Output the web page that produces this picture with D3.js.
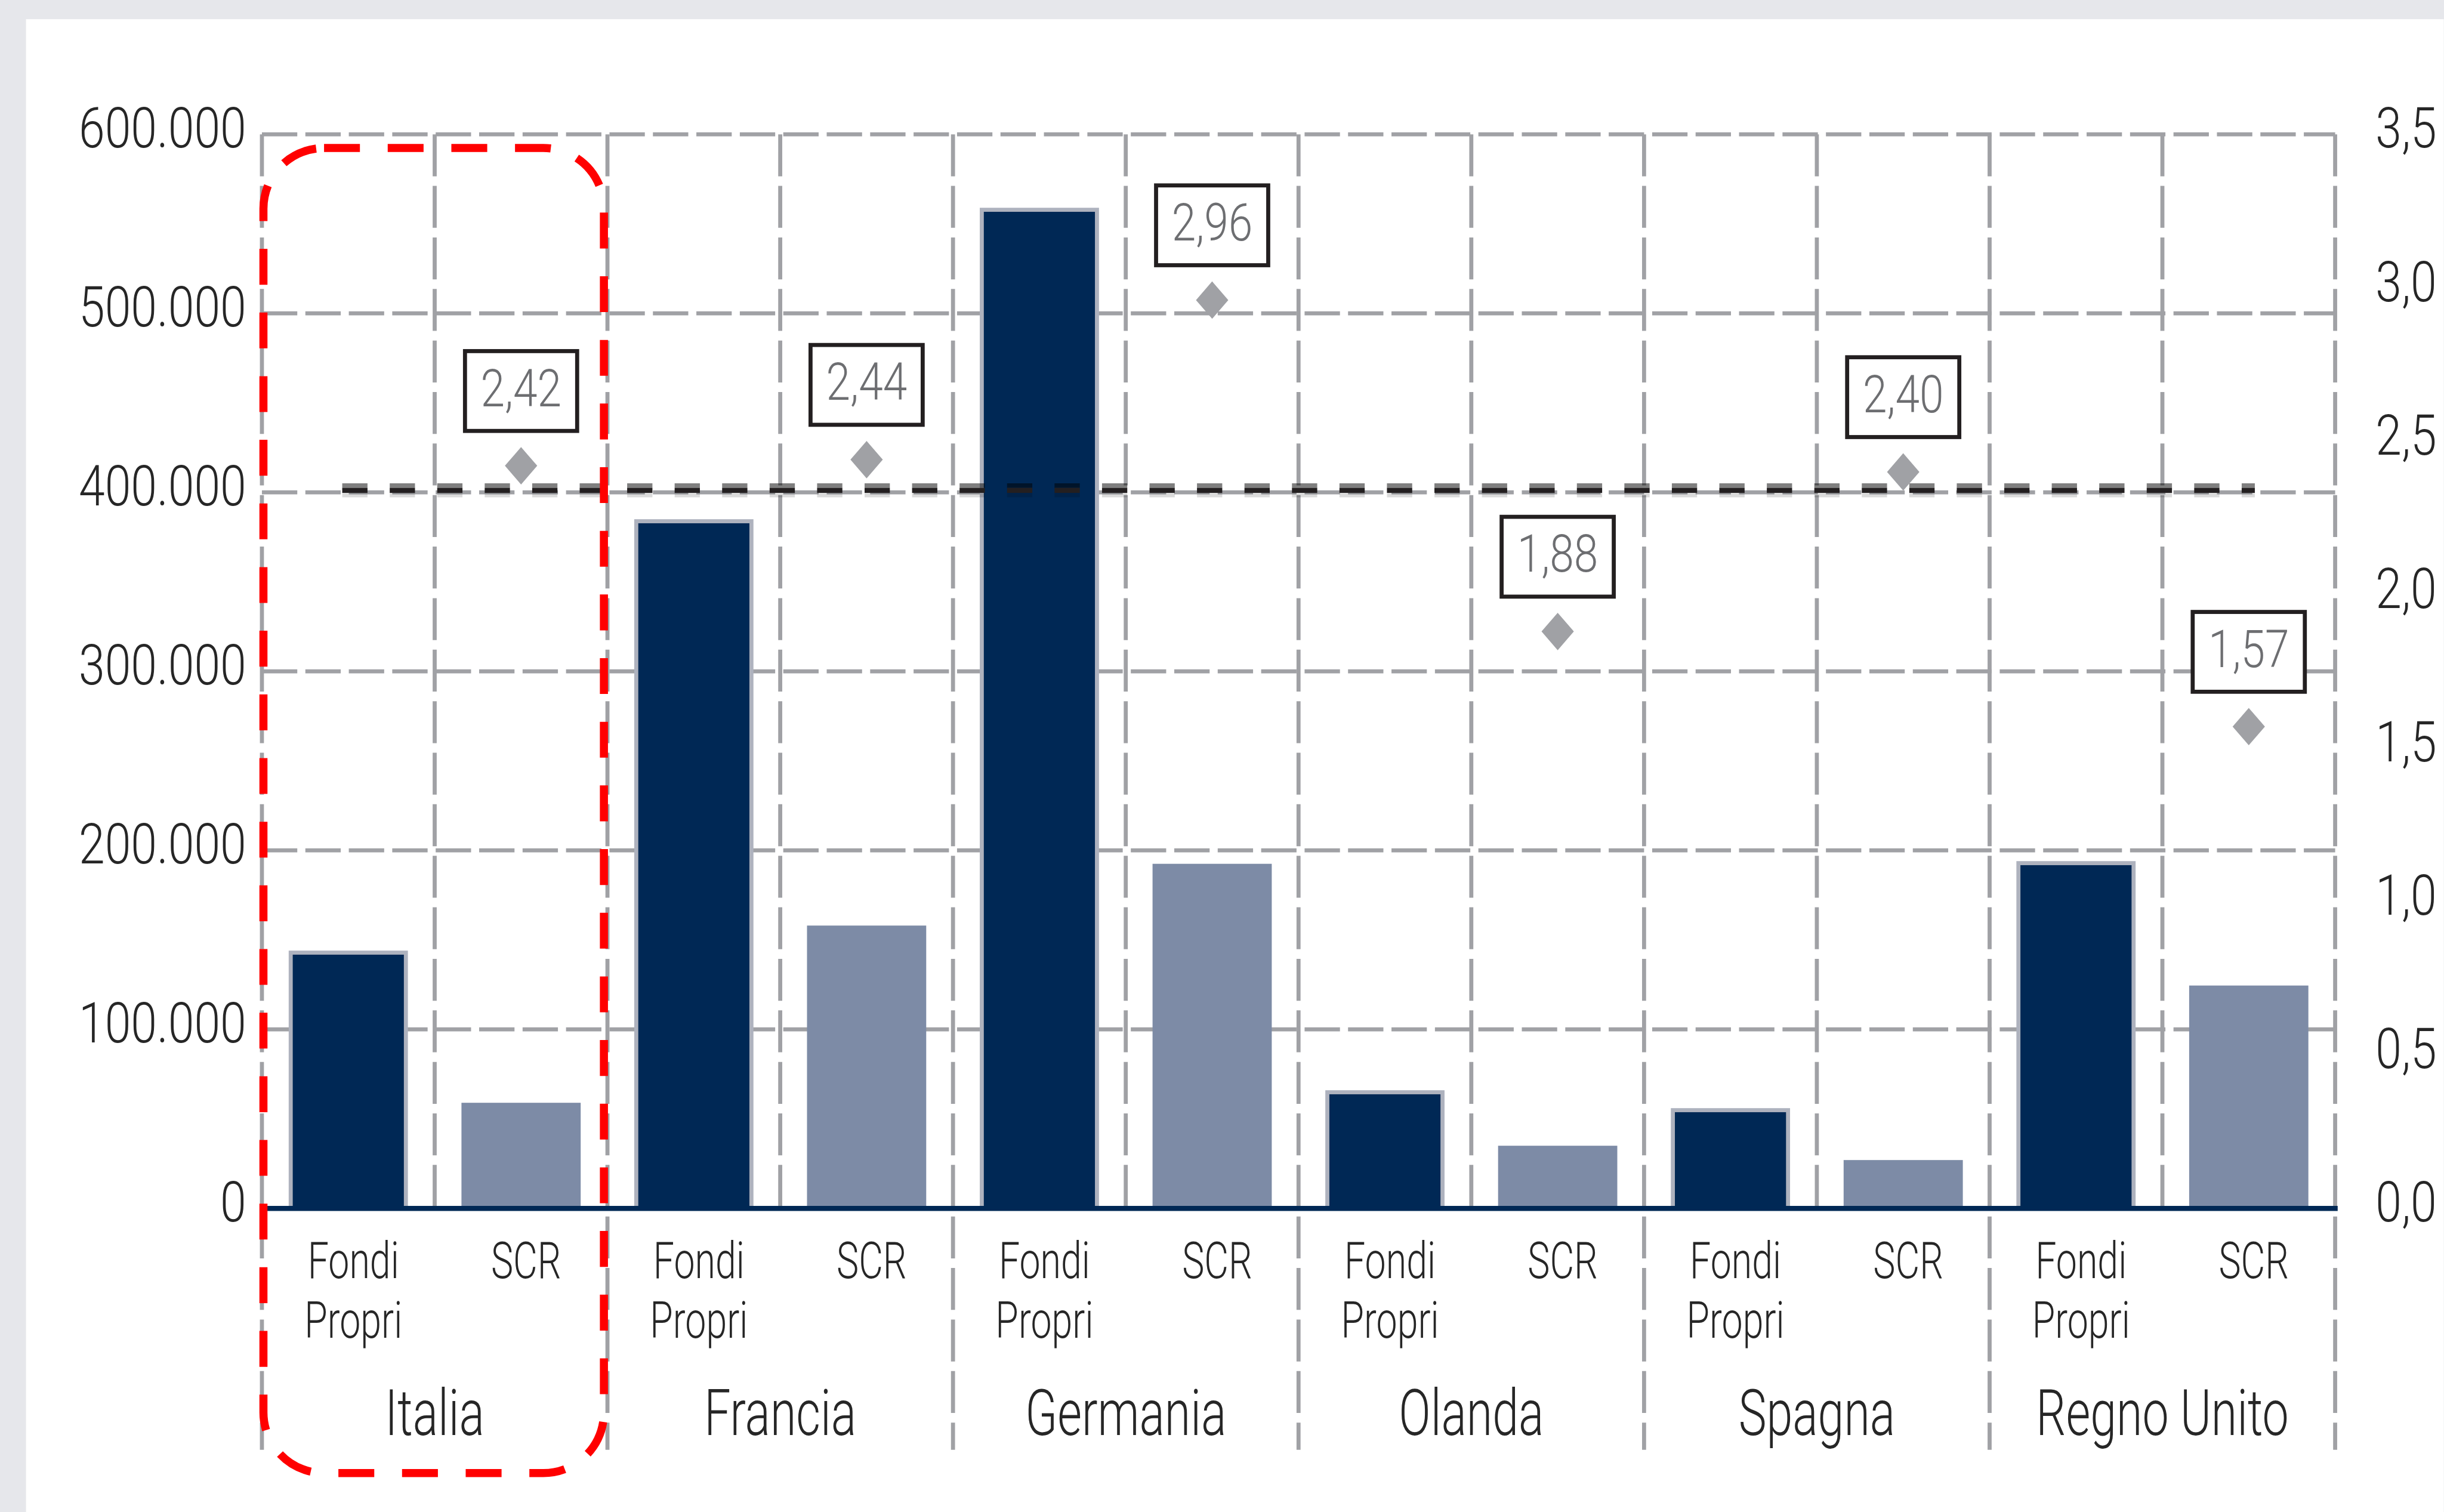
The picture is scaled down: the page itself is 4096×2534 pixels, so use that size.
<!DOCTYPE html>
<html>
<head>
<meta charset="utf-8">
<script src="https://cdn.jsdelivr.net/npm/d3@7"></script>
<style>
  html, body { margin: 0; padding: 0; background: #e6e7eb; overflow: hidden; }
  svg { display: block; }
</style>
</head>
<body>
<svg id="chart"></svg>
<script>
// ---------------- DATA ----------------
const countries = ["Italia", "Francia", "Germania", "Olanda", "Spagna", "Regno Unito"];
const seriesNames = ["Fondi Propri", "SCR"];
const seriesLabelLines = [["Fondi", "Propri"], ["SCR"]];
const fondiPropri = [144000, 385000, 559000, 66000, 56000, 194000];
const scr = [59000, 158000, 192500, 35000, 27000, 124500];
const solvencyRatio = [2.42, 2.44, 2.96, 1.88, 2.40, 1.57];
const ratioLabels = ["2,42", "2,44", "2,96", "1,88", "2,40", "1,57"];
const averageRatio = 2.34;
const highlightedCountry = "Italia";
const leftTicks = [0, 100000, 200000, 300000, 400000, 500000, 600000];
const leftTickLabels = ["0", "100.000", "200.000", "300.000", "400.000", "500.000", "600.000"];
const rightTicks = [0, 0.5, 1.0, 1.5, 2.0, 2.5, 3.0, 3.5];
const rightTickLabels = ["0,0", "0,5", "1,0", "1,5", "2,0", "2,5", "3,0", "3,5"];

// ---------------- LAYOUT (reference pixel units, scaled by viewBox) ----------------
const W = 4837, H = 2993;
const plot = { left: 518, right: 4622, top: 266, bottom: 2392 };
const FONT = "Roboto, 'Open Sans', 'DejaVu Sans Condensed', sans-serif";
const TEXT = "#262626";
const GRID = "#a0a1a5";
const DARK = "#002855";
const LIGHT = "#7d8ba6";
const NUM_SQUEEZE = 0.83;
const WORD_SQUEEZE = 0.74;

const svg = d3.select("#chart")
  .attr("width", 4096).attr("height", 2534)
  .attr("viewBox", `0 0 ${W} ${H}`);

svg.append("rect").attr("x", 0).attr("y", 0).attr("width", W).attr("height", H).attr("fill", "#e6e7eb");
svg.append("rect").attr("x", 51).attr("y", 38).attr("width", W - 51).attr("height", H - 38).attr("fill", "#ffffff");

const x0 = d3.scaleBand().domain(countries).range([plot.left, plot.right]).padding(0);
const x1 = d3.scaleBand().domain(seriesNames).range([0, x0.bandwidth()]).padding(0);
const yL = d3.scaleLinear().domain([0, 600000]).range([plot.bottom, plot.top]);
const yR = d3.scaleLinear().domain([0, 3.5]).range([plot.bottom, plot.top]);
const barW = x1.bandwidth() * 0.69;
const border = 8;

const rows = countries.map((c, i) => ({
  country: c,
  values: [fondiPropri[i], scr[i]],
  ratio: solvencyRatio[i],
  label: ratioLabels[i]
}));

// ---------------- GRID ----------------
svg.append("g").attr("class", "grid-h").selectAll("line")
  .data(leftTicks.filter(d => d > 0)).join("line")
  .attr("x1", plot.left).attr("x2", plot.right)
  .attr("y1", d => yL(d)).attr("y2", d => yL(d))
  .attr("stroke", GRID).attr("stroke-width", 8).attr("stroke-dasharray", "70 16");

const vLines = [];
countries.forEach(c => {
  vLines.push({ x: x0(c), group: true });
  vLines.push({ x: x0(c) + x1("SCR"), group: false });
});
vLines.push({ x: plot.right, group: true });
svg.append("g").attr("class", "grid-v").selectAll("line").data(vLines).join("line")
  .attr("x1", d => d.x).attr("x2", d => d.x)
  .attr("y1", plot.top)
  .attr("y2", d => d.group ? 2870 : plot.bottom)
  .attr("stroke", GRID).attr("stroke-width", 8).attr("stroke-dasharray", "83 19");

// ---------------- BARS ----------------
const groups = svg.append("g").attr("class", "bars").selectAll("g").data(rows).join("g")
  .attr("transform", d => `translate(${x0(d.country)},0)`);

groups.each(function (d) {
  const g = d3.select(this);
  seriesNames.forEach((s, si) => {
    const v = d.values[si];
    const bx = x1(s) + (x1.bandwidth() - barW) / 2;
    const by = yL(v);
    const bh = yL(0) - yL(v);
    if (si === 0) {
      g.append("rect").attr("x", bx).attr("y", by).attr("width", barW).attr("height", bh)
        .attr("fill", "#aeb2be");
      g.append("rect").attr("x", bx + border).attr("y", by + border)
        .attr("width", barW - 2 * border).attr("height", bh - border)
        .attr("fill", DARK);
    } else {
      g.append("rect").attr("x", bx).attr("y", by).attr("width", barW).attr("height", bh)
        .attr("fill", LIGHT);
    }
  });
});

// baseline
svg.append("line")
  .attr("x1", plot.left).attr("x2", plot.right + 5)
  .attr("y1", yL(0)).attr("y2", yL(0))
  .attr("stroke", DARK).attr("stroke-width", 10);

// ---------------- AVERAGE LINE ----------------
const avgY = yR(averageRatio);
const avgX1 = x0(countries[0]) + x1("Fondi Propri") + x1.bandwidth() / 2 - 12;
const avgX2 = x0(countries[countries.length - 1]) + x1("SCR") + x1.bandwidth() / 2 + 12;
const avgBands = [
  { dy: -9.5, color: "#000000", op: 0.5, w: 9 },
  { dy: 9.5, color: "#000000", op: 0.14, w: 9 },
  { dy: 0, color: "#231f20", op: 1, w: 10 }
];
svg.append("g").attr("class", "avg").selectAll("line").data(avgBands).join("line")
  .attr("x1", avgX1).attr("x2", avgX2)
  .attr("y1", d => avgY + d.dy).attr("y2", d => avgY + d.dy)
  .attr("stroke", d => d.color).attr("stroke-opacity", d => d.op)
  .attr("stroke-width", d => d.w)
  .attr("stroke-dasharray", "50 44");

// ---------------- RATIO MARKERS ----------------
function diamond(hw, hh) {
  const p = d3.path();
  p.moveTo(0, -hh); p.lineTo(hw, 0); p.lineTo(0, hh); p.lineTo(-hw, 0); p.closePath();
  return p.toString();
}
const markerX = d => x0(d.country) + x1("SCR") + x1.bandwidth() / 2;
svg.append("g").attr("class", "markers").selectAll("path").data(rows).join("path")
  .attr("d", diamond(32, 37))
  .attr("transform", d => `translate(${markerX(d)},${yR(d.ratio)})`)
  .attr("fill", "#a0a1a5");

const boxW = 222, boxH = 158, boxOff = 148;
const bxs = svg.append("g").attr("class", "ratio-labels").selectAll("g").data(rows).join("g")
  .attr("transform", d => `translate(${markerX(d)},${yR(d.ratio) - boxOff})`);
bxs.append("rect")
  .attr("x", -boxW / 2).attr("y", -boxH / 2).attr("width", boxW).attr("height", boxH)
  .attr("fill", "#ffffff").attr("stroke", "#231f20").attr("stroke-width", 8);
bxs.append("text")
  .attr("class", "num")
  .attr("x", 0).attr("y", 30)
  .attr("text-anchor", "middle")
  .attr("font-family", FONT).attr("font-weight", 300).attr("font-size", 104)
  .attr("fill", "#6d6e71")
  .text(d => d.label);

// ---------------- AXES ----------------
const axL = svg.append("g").attr("transform", `translate(${plot.left},0)`)
  .call(d3.axisLeft(yL).tickValues(leftTicks).tickSize(0).tickPadding(31)
    .tickFormat((d, i) => leftTickLabels[i]));
axL.select(".domain").remove();
axL.selectAll("text").attr("class", "num").attr("font-family", FONT).attr("font-weight", 300)
  .attr("font-size", 112).attr("fill", TEXT).attr("dy", "0.23em");

const axR = svg.append("g").attr("transform", `translate(${plot.right},0)`)
  .call(d3.axisRight(yR).tickValues(rightTicks).tickSize(0).tickPadding(80)
    .tickFormat((d, i) => rightTickLabels[i]));
axR.select(".domain").remove();
axR.selectAll("text").attr("class", "num").attr("font-family", FONT).attr("font-weight", 300)
  .attr("font-size", 112).attr("fill", TEXT).attr("dy", "0.23em");

// category labels
const gCat = svg.append("g").attr("class", "cat-labels");
countries.forEach(c => {
  seriesNames.forEach((s, si) => {
    seriesLabelLines[si].forEach((ln, li) => {
      gCat.append("text")
        .attr("class", "word")
        .attr("x", x0(c) + x1(s) + x1.bandwidth() / 2 + 10)
        .attr("y", 2530 + li * 118)
        .attr("text-anchor", "middle")
        .attr("font-family", FONT).attr("font-weight", 300).attr("font-size", 100)
        .attr("fill", TEXT)
        .text(ln);
    });
  });
  gCat.append("text")
    .attr("class", "word")
    .attr("x", x0(c) + x0.bandwidth() / 2)
    .attr("y", 2841)
    .attr("text-anchor", "middle")
    .attr("font-family", FONT).attr("font-weight", 300).attr("font-size", 126)
    .attr("fill", TEXT)
    .text(c);
});

// condensed look: squeeze glyphs horizontally around each text's anchor point
svg.selectAll("text").each(function () {
  const el = d3.select(this);
  const k = el.classed("word") ? WORD_SQUEEZE : NUM_SQUEEZE;
  const tx = +el.attr("x") || 0;
  const ty = +el.attr("y") || 0;
  el.attr("x", 0).attr("y", 0)
    .attr("transform", `translate(${tx},${ty}) scale(${k},1)`);
});

// ---------------- HIGHLIGHT ----------------
svg.append("rect")
  .attr("x", x0(highlightedCountry) + 3)
  .attr("y", yL(600000) + 27)
  .attr("width", x0.bandwidth() - 10)
  .attr("height", 2916 - (yL(600000) + 27))
  .attr("rx", 120).attr("ry", 120)
  .attr("fill", "none").attr("stroke", "#ff0000").attr("stroke-width", 16)
  .attr("stroke-dasharray", "71 55");
</script>
</body>
</html>
